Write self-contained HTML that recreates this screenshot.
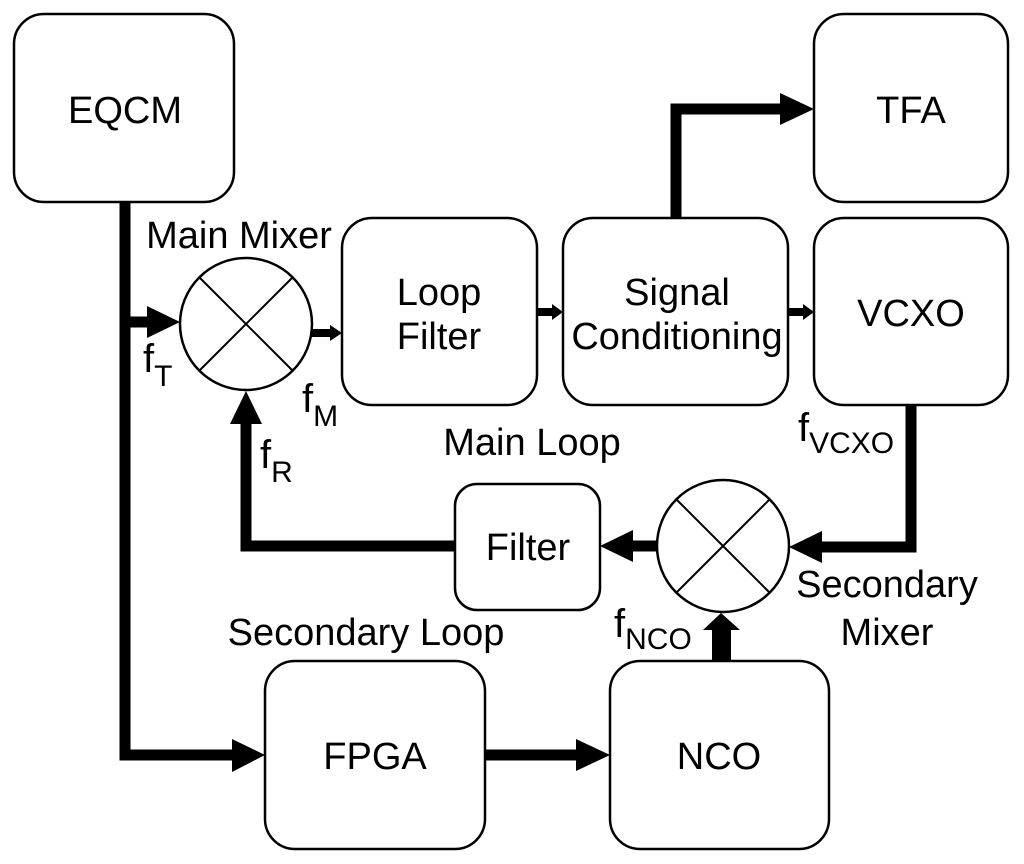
<!DOCTYPE html>
<html><head><meta charset="utf-8"><style>
html,body{margin:0;padding:0;background:#fff;}
svg{display:block;}
text{font-family:"Liberation Sans",Arial,sans-serif;fill:#000;}
</style></head><body>
<svg width="1024" height="864" viewBox="0 0 1024 864" xmlns="http://www.w3.org/2000/svg">
<g fill="#fff" stroke="#000" stroke-width="2.5">
<rect x="14" y="14" width="220" height="188" rx="30"/>
<rect x="814" y="14" width="194" height="188" rx="30"/>
<rect x="342" y="218" width="195" height="187" rx="30"/>
<rect x="563" y="218" width="225" height="187" rx="30"/>
<rect x="814" y="218" width="194" height="187" rx="30"/>
<rect x="455" y="484" width="145" height="126" rx="22"/>
<rect x="265" y="661" width="220" height="188" rx="30"/>
<rect x="610" y="661" width="219" height="188" rx="30"/>
<circle cx="246" cy="324" r="66"/>
<circle cx="723" cy="546" r="66"/>
</g>
<g stroke="#000" stroke-width="2">
<line x1="199" y1="277" x2="293" y2="371"/><line x1="293" y1="277" x2="199" y2="371"/>
<line x1="676" y1="499" x2="770" y2="593"/><line x1="770" y1="499" x2="676" y2="593"/>
</g>
<g fill="none" stroke="#000" stroke-width="11" stroke-linejoin="miter">
<polyline points="125,202 125,755 235,755"/>
<line x1="125" y1="322" x2="150" y2="322"/>
<polyline points="455,546 246,546 246,420"/>
<polyline points="676,218 676,109 782,109"/>
<polyline points="911,405 911,547 820,547"/>
<line x1="657" y1="546" x2="630" y2="546"/>
<line x1="485" y1="755" x2="578" y2="755"/>
</g>
<g fill="#000">
<polygon points="147,306 180,322 147,338"/>
<polygon points="232,739 265,755 232,772"/>
<polygon points="230,424 246,391 262,424"/>
<polygon points="780,93 814,109 780,125"/>
<polygon points="822,531 789,547 822,563"/>
<polygon points="633,530 600,546 633,562"/>
<polygon points="576,739 610,755 576,771"/>
<rect x="712" y="628" width="19" height="34"/>
<polygon points="703,630 721,613 740,630"/>
<rect x="312" y="329" width="20" height="8"/><polygon points="330,325 342,333 330,341"/>
<rect x="537" y="308" width="16" height="8"/><polygon points="552,304 563,312 552,320"/>
<rect x="788" y="308" width="16" height="8"/><polygon points="803,304 814,312 803,320"/>
</g>
<g font-size="38" text-anchor="middle">
<text x="125" y="123">EQCM</text>
<text x="911" y="123">TFA</text>
<text x="439" y="305">Loop</text>
<text x="439" y="349">Filter</text>
<text x="677" y="305">Signal</text>
<text x="677" y="349">Conditioning</text>
<text x="911" y="326">VCXO</text>
<text x="528" y="560">Filter</text>
<text x="375" y="769">FPGA</text>
<text x="719" y="769">NCO</text>
<text x="239" y="248">Main Mixer</text>
<text x="532" y="455">Main Loop</text>
<text x="366" y="645">Secondary Loop</text>
<text x="887" y="597">Secondary</text>
<text x="887" y="645">Mixer</text>
</g>
<g font-size="40">
<text x="143" y="372">f<tspan font-size="30" dy="14">T</tspan></text>
<text x="302" y="412">f<tspan font-size="30" dy="14">M</tspan></text>
<text x="260" y="468">f<tspan font-size="30" dy="14">R</tspan></text>
<text x="798" y="441">f<tspan font-size="30" dy="12">VCXO</tspan></text>
<text x="614" y="637">f<tspan font-size="30" dy="12">NCO</tspan></text>
</g>
</svg>
</body></html>
